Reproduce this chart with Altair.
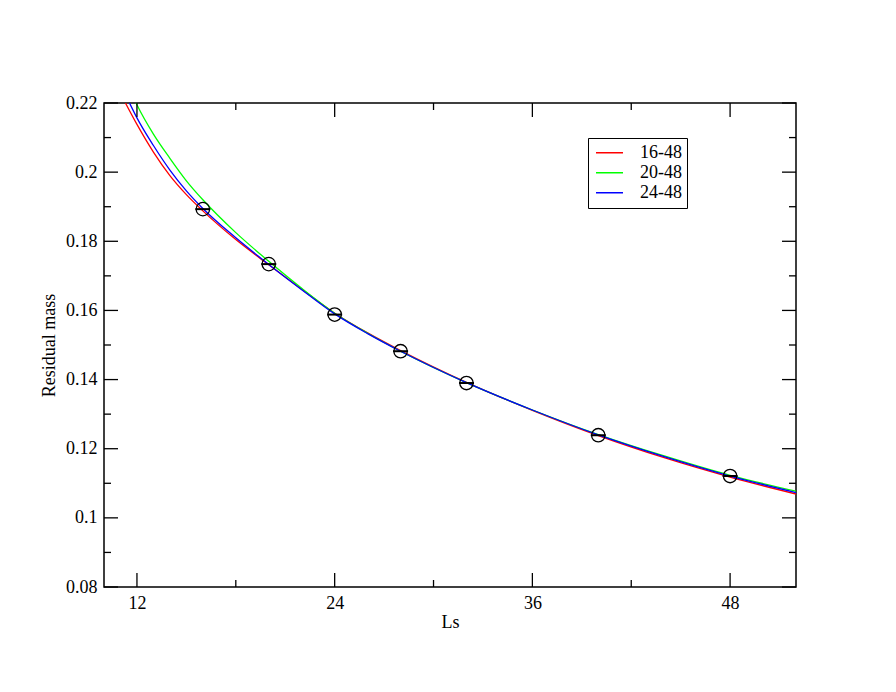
import altair as alt
import pandas as pd

# ---- data ----
ls_points = [16, 20, 24, 28, 32, 40, 48]
mass_points = [0.1893, 0.1734, 0.1588, 0.1482, 0.1390, 0.1239, 0.1121]

series_names = ["16-48", "20-48", "24-48"]
series_colors = ["#ff0000", "#00ff00", "#0000ff"]

x_red = [11.30, 12, 13, 14, 15, 16, 18, 20, 22, 24, 26, 28, 32, 36, 40, 44, 48, 52]
y_red = [0.2200, 0.2138, 0.2058, 0.1990, 0.1935, 0.1888, 0.1805, 0.1732, 0.1661,
         0.1592, 0.1535, 0.1484, 0.1392, 0.1311, 0.1238, 0.1174, 0.1118, 0.1069]

x_green = [11.95, 12, 13, 14, 15, 16, 18, 20, 22, 24, 26, 28, 32, 36, 40, 44, 48, 52]
y_green = [0.2200, 0.2195, 0.2110, 0.2040, 0.1975, 0.1920, 0.1825, 0.1742, 0.1664,
           0.1592, 0.1534, 0.1482, 0.1391, 0.1312, 0.1241, 0.1179, 0.1123, 0.1077]

x_blue = [11.55, 12, 13, 14, 15, 16, 18, 20, 22, 24, 26, 28, 30, 32, 36, 40, 44, 48, 52]
y_blue = [0.2200, 0.2157, 0.2077, 0.2006, 0.1946, 0.1895, 0.1810, 0.1733, 0.1660,
          0.1590, 0.1533, 0.1482, 0.1435, 0.1391, 0.1312, 0.1240, 0.1177, 0.1121, 0.1073]

x_major = [12, 24, 36, 48]
x_minor = [18, 30, 42]
y_major = [0.08, 0.10, 0.12, 0.14, 0.16, 0.18, 0.20, 0.22]
y_minor = [0.09, 0.11, 0.13, 0.15, 0.17, 0.19, 0.21]

x_domain = [10, 52]
y_domain = [0.08, 0.22]

# ---- tables ----
rows = []
for name, xs_, ys_ in zip(series_names, [x_red, x_green, x_blue], [y_red, y_green, y_blue]):
    for xv, yv in zip(xs_, ys_):
        rows.append({"series": name, "Ls": xv, "mass": yv})
curves = pd.DataFrame(rows)
points = pd.DataFrame({"Ls": ls_points, "mass": mass_points})

W, H = 692, 484
FONT = "Liberation Serif"
xs = alt.Scale(domain=x_domain, nice=False, zero=False)
ys = alt.Scale(domain=y_domain, nice=False, zero=False)

x_axis = alt.Axis(values=x_major, format="d", title="Ls", grid=False, ticks=False,
                  tickSize=0, domain=False, labelFont=FONT, labelFontSize=18,
                  labelColor="black", labelPadding=7, titleFont=FONT,
                  titleFontSize=18, titleFontWeight="normal", titleColor="black",
                  titlePadding=1)
y_axis = alt.Axis(values=y_major, format="~g", title="Residual mass", grid=False,
                  ticks=False, tickSize=0, domain=False, labelFont=FONT,
                  labelFontSize=18, labelColor="black", labelPadding=7,
                  titleFont=FONT, titleFontSize=18, titleFontWeight="normal",
                  titleColor="black", titlePadding=7)

lines = alt.Chart(curves).mark_line(strokeWidth=1.3, clip=True, interpolate="monotone").encode(
    x=alt.X("Ls:Q", scale=xs, axis=x_axis, title="Ls"),
    y=alt.Y("mass:Q", scale=ys, axis=y_axis, title="Residual mass"),
    color=alt.Color("series:N",
                    scale=alt.Scale(domain=series_names, range=series_colors),
                    legend=alt.Legend(title=None, orient="none", legendX=484, legendY=35,
                                      symbolType="stroke", symbolSize=729,
                                      symbolStrokeWidth=1.3, symbolOffset=2,
                                      labelFont=FONT, labelFontSize=18,
                                      labelColor="black", labelOffset=16,
                                      strokeColor="black", fillColor="white",
                                      padding=5, rowPadding=0, clipHeight=19.5,
                                      labelBaseline="middle")),
    order=alt.Order("Ls:Q"),
)

circles = alt.Chart(points).mark_point(shape="circle", size=180, filled=False,
                                       color="black", strokeWidth=1.3, opacity=1).encode(
    x=alt.X("Ls:Q", scale=xs, title="Ls"), y=alt.Y("mass:Q", scale=ys, title="Residual mass"))

bars = alt.Chart(points).mark_point(shape="M-1,0L1,0", size=225, filled=False,
                                    color="black", strokeWidth=2, opacity=1).encode(
    x=alt.X("Ls:Q", scale=xs, title="Ls"), y=alt.Y("mass:Q", scale=ys, title="Residual mass"))


def xticks(vals, length, top):
    df = pd.DataFrame({"Ls": vals})
    if top:
        yy, yy2 = alt.value(0), alt.value(length)
    else:
        yy, yy2 = alt.value(H), alt.value(H - length)
    return alt.Chart(df).mark_rule(color="black", strokeWidth=1.3).encode(
        x=alt.X("Ls:Q", scale=xs, title="Ls"), y=yy, y2=yy2)


def yticks(vals, length, right):
    df = pd.DataFrame({"mass": vals})
    if right:
        xx, xx2 = alt.value(W), alt.value(W - length)
    else:
        xx, xx2 = alt.value(0), alt.value(length)
    return alt.Chart(df).mark_rule(color="black", strokeWidth=1.3).encode(
        y=alt.Y("mass:Q", scale=ys, title="Residual mass"), x=xx, x2=xx2)


tick_layers = [
    xticks(x_major, 14, False), xticks(x_minor, 7, False),
    xticks(x_major, 14, True), xticks(x_minor, 7, True),
    yticks(y_major, 14, False), yticks(y_minor, 7, False),
    yticks(y_major, 14, True), yticks(y_minor, 7, True),
]

chart = alt.layer(lines, *tick_layers, circles, bars).properties(
    width=W, height=H,
    autosize=alt.AutoSizeParams(type="none"),
    padding={"left": 96, "top": 95, "right": 80, "bottom": 90},
    background="white",
).configure_view(stroke="black", strokeWidth=1.5)

chart.save("out.html", embed_options={"renderer": "svg", "actions": False})
